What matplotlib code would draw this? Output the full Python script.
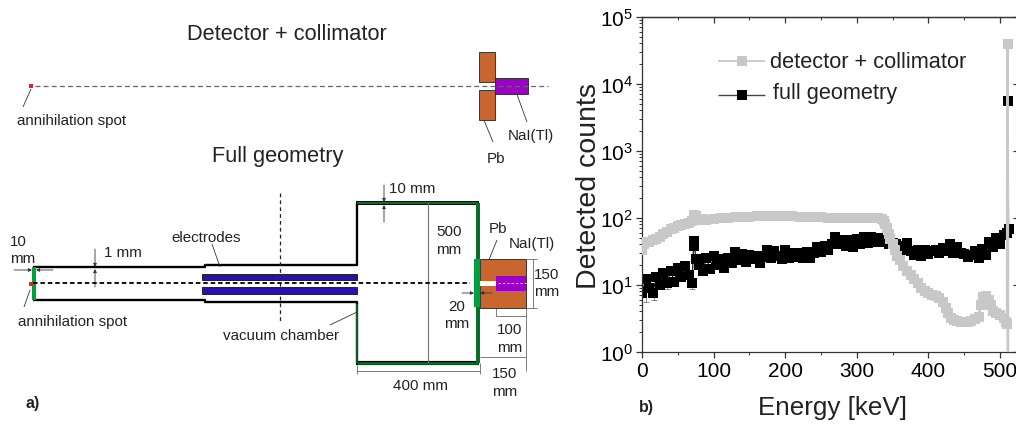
import numpy as np
import matplotlib
matplotlib.use('Agg')
import matplotlib.pyplot as plt
from matplotlib.patches import Rectangle
from matplotlib.ticker import FixedLocator, NullFormatter

plt.rcParams['font.family'] = ['Liberation Sans', 'DejaVu Sans']
plt.rcParams['mathtext.fontset'] = 'custom'
plt.rcParams['mathtext.rm'] = 'Liberation Sans'

# detector + collimator spectrum
gray_energy = [0, 3, 6, 10, 15, 20, 25, 30, 35, 40, 45, 50, 55, 60, 65, 70, 72, 75, 80, 85, 90,
               100, 110, 120, 130, 140, 150, 160, 170, 180, 190, 200, 210, 220, 230, 240, 250,
               260, 270, 280, 290, 300, 310, 320, 330, 335, 338, 340, 342, 345, 347, 350, 353,
               356, 360, 365, 370, 375, 380, 385, 390, 395, 400, 405, 410, 415, 420, 424, 428,
               432, 436, 440, 445, 450, 455, 460, 465, 470, 473, 476, 480, 484, 487, 490, 495,
               500, 505, 508, 510, 510.5, 511]
gray_counts = [33, 40, 43, 44, 46, 48, 52, 57, 62, 67, 71, 74, 77, 80, 83, 88, 110, 105, 93, 95, 92,
               95, 98, 100, 102, 103, 104, 105, 105, 106, 107, 106, 105, 104, 103, 102, 101,
               100, 99, 98, 98, 98, 98, 99, 98, 95, 90, 80, 70, 58, 48, 40, 33,
               27, 23, 19, 16, 14, 12, 10.5, 9, 8, 7.5, 7, 6.7, 6.3, 5.5, 4.5, 3.8,
               3.2, 3, 2.9, 2.8, 2.8, 2.8, 2.9, 3.1, 3.3, 5, 6.5, 6.8, 6, 5, 4, 3.8,
               3.5, 3.2, 2.8, 2.6, 39000, 0.5]

# full geometry spectrum
black_energy = [0, 5, 10, 15, 20, 25, 30, 35, 40, 45, 50, 55, 60, 65, 70, 72, 73, 75, 80, 85, 90,
                95, 100, 105, 110, 115, 120, 125, 130, 135, 140, 145, 150, 155, 160, 165, 170,
                175, 180, 185, 190, 195, 200, 205, 210, 215, 220, 225, 230, 235, 240, 245, 250,
                255, 260, 265, 270, 275, 280, 285, 290, 295, 300, 305, 310, 315, 320, 325, 330,
                335, 340, 345, 350, 355, 360, 365, 370, 375, 380, 385, 390, 395, 400, 405, 410,
                415, 420, 425, 430, 435, 440, 445, 450, 455, 460, 465, 470, 475, 480, 485, 490,
                495, 500, 505, 510, 511, 512]
black_counts = [7.5, 12, 9, 7.5, 13, 10, 15, 10.5, 16, 11, 18, 13, 19, 14, 10.5, 38, 45, 24, 20, 16, 25,
                17, 27, 20, 24, 18, 25, 21, 31, 23, 29, 22, 28, 24, 27, 21, 26,
                33, 25, 32, 27, 24, 33, 25, 30, 26, 30, 25, 31, 25, 30, 36, 31,
                38, 33, 41, 52, 40, 47, 38, 46, 36, 48, 40, 51, 42, 52, 43, 50,
                44, 46, 41, 42, 40, 38, 33, 42, 32, 28, 33, 27, 33, 29, 32, 33,
                30, 35, 32, 40, 30, 36, 30, 29, 26, 28, 32, 25, 34, 28, 44, 36,
                50, 40, 55, 60, 5500, 68]

# the few error bars that stick out of the black band
err_energy = [5, 17, 35, 47, 70]
err_counts = [8, 7.5, 10.5, 11, 10.5]
err_low = [2.4, 1.5, 1.8, 1.4, 2.0]
err_high = [1.0, 1.0, 1.0, 1.0, 1.0]

xtick_values = [0, 100, 200, 300, 400, 500]
xtick_minor = [50, 150, 250, 350, 450]
ytick_values = [1, 10, 100, 1000, 10000, 100000]
ytick_labels = ['$\\mathregular{10^{%d}}$' % i for i in range(6)]

GRAY = '#c8c8c8'
PB = '#c9652f'
PURPLE = '#9b00c6'
BLUE = '#2a0fb4'
GREEN = '#00a03c'
DKGREEN = '#0a6e2a'
EDGE = '#222222'

fig = plt.figure(figsize=(10.16, 4.27), dpi=100)

# b) spectrum panel
ax = fig.add_axes([642 / 1016, 1 - 352.7 / 427, 375 / 1016, 335 / 427])
ax.set_yscale('log')
ax.set_xlim(0, 523.7)
ax.set_ylim(1, 1e5)
ax.errorbar(err_energy, err_counts, yerr=[err_low, err_high], fmt='none', ecolor='#777777',
            elinewidth=0.6, capsize=2.5, capthick=0.6, zorder=1)
ax.plot(black_energy, black_counts, '-s', color='black', ms=7.2, lw=0.8, mew=0, zorder=2)
ax.plot(gray_energy, gray_counts, '-s', color=GRAY, ms=7, lw=2, mew=0, zorder=3)

ax.set_xticks(xtick_values)
ax.xaxis.set_minor_locator(FixedLocator(xtick_minor))
ax.xaxis.set_minor_formatter(NullFormatter())
ax.set_yticks(ytick_values)
ax.set_yticklabels(ytick_labels)
ax.yaxis.set_minor_locator(FixedLocator([m * d for d in ytick_values[:-1] for m in range(2, 10)]))
ax.yaxis.set_minor_formatter(NullFormatter())
ax.tick_params(axis='both', which='major', labelsize=15, length=4.5, width=0.9, color='#333333', pad=2)
ax.tick_params(axis='both', which='minor', length=2.5, width=0.7, color='#333333')
for s in ax.spines.values():
    s.set_linewidth(0.9)
    s.set_color('#333333')

# top and right ticks point inwards
top = ax.secondary_xaxis('top')
top.set_xticks(xtick_values)
top.set_xticks(xtick_minor, minor=True)
top.tick_params(axis='x', which='major', direction='in', length=4.5, width=0.9, color='#333333', labeltop=False)
top.tick_params(axis='x', which='minor', direction='in', length=2.5, width=0.7, color='#333333')
top.spines['top'].set_linewidth(0.9)
top.spines['top'].set_color('#333333')
right = ax.secondary_yaxis('right')
right.set_yticks(ytick_values)
right.yaxis.set_minor_locator(FixedLocator([]))
right.tick_params(axis='y', which='major', direction='in', length=3, width=0.9, color='#333333', labelright=False)

ax.set_xlabel('Energy [keV]', fontsize=18.7, va='center', color='#222222')
ax.xaxis.set_label_coords(0.507, -0.165)
ax.set_ylabel('Detected counts', fontsize=20.5, va='center', color='#222222')
ax.yaxis.set_label_coords(-0.141, 0.498)

# overlay in image pixels for the schematic, legend and panel letters
ov = fig.add_axes([0, 0, 1, 1])
ov.set_xlim(0, 1016)
ov.set_ylim(427, 0)
ov.axis('off')
ov.patch.set_alpha(0)


def label(x, y, s, size=10.9, ha='left', **kw):
    ov.text(x, y + 1, s, fontsize=size, ha=ha, va='center', color='#222222', **kw)


def box(x0, y0, x1, y1, color, edge='none', lw=0.6, z=3):
    ov.add_patch(Rectangle((x0, y0), x1 - x0, y1 - y0, facecolor=color, edgecolor=edge, linewidth=lw, zorder=z))


def line(xs, ys, color='#333333', lw=0.6, **kw):
    ov.plot(xs, ys, color=color, lw=lw, solid_capstyle='butt', **kw)


def arrow(x0, y0, x1, y1):
    ov.annotate('', xy=(x1, y1), xytext=(x0, y0),
                arrowprops=dict(arrowstyle='-|>', mutation_scale=5, lw=0.6, color='#333333',
                                shrinkA=0, shrinkB=0))


# legend
line([718, 765], [62, 62], color=GRAY, lw=1.3)
ov.plot([742], [62], 's', color=GRAY, ms=7, mew=0)
line([718, 765], [96, 96], color='#444444', lw=1.0)
ov.plot([742], [96], 's', color='black', ms=7, mew=0)
label(770, 61, 'detector + collimator', size=15.7)
label(773, 92, 'full geometry', size=15.7)
label(639, 407, 'b)', size=11.5, fontweight='bold')
label(26, 403, 'a)', size=11.5, fontweight='bold')

# upper schematic
label(287, 34, 'Detector + collimator', size=15.7, ha='center')
line([35, 548], [87, 87], color='#666666', lw=0.9, ls=(0, (4, 2.5)), zorder=5)
ov.plot([31], [87], 's', color='#e8202a', ms=2.4, mew=0)
box(479, 53, 495, 83, PB, EDGE)
box(479, 91, 495, 121, PB, EDGE)
box(495, 79, 528, 95, PURPLE, EDGE)
line([481, 493], [114, 143])
line([515, 527], [90, 123])
label(496, 158, 'Pb', ha='center')
label(508, 135, 'NaI(Tl)')
label(17, 120, 'annihilation spot')
line([31, 23], [90, 108])

# lower schematic: beam pipe
label(278, 156, 'Full geometry', size=15.7, ha='center')
line([33, 205, 205, 357, 357], [268, 268, 266, 266, 204], color='black', lw=1.7)
line([33, 205, 205, 357, 357], [301, 301, 303, 303, 364], color='black', lw=1.7)
line([356, 479], [204, 204], color='black', lw=2.8)
line([356, 479], [364, 364], color='black', lw=3)
line([357, 478], [204, 204], color=DKGREEN, lw=1.5)
line([357, 478], [364, 364], color=DKGREEN, lw=1.8)
line([357, 357], [305, 364], color=DKGREEN, lw=1.2)
box(32, 268, 35.5, 301, GREEN, z=4)
box(476, 204, 480, 364, DKGREEN, z=4)
box(474, 260, 480, 308, GREEN, z=5)
box(202, 275, 357, 281, BLUE, '#111111')
box(202, 288, 357, 295, BLUE, '#111111')
line([428, 428], [204, 364], color='#777777', lw=0.8)
line([280, 280], [194, 324], color='#222222', lw=0.9, ls=(0, (3, 2.5)))
box(480, 260, 526, 309, PB, EDGE)
box(496, 277, 526, 292, PURPLE)
box(480, 282, 496, 287, 'white')
line([33, 470], [284.3, 284.3], color='black', lw=1.3, ls=(0, (2.5, 1.6)), zorder=6)
line([498, 526], [284.3, 284.3], color='#e8c8f0', lw=0.7, ls=(0, (2.5, 2)), zorder=6)
ov.plot([31], [284.5], 's', color='#e8202a', ms=2.4, mew=0, zorder=7)

# annotations and dimension lines
label(10, 241, '10')
label(10, 258, 'mm')
arrow(14, 271, 32, 271)
arrow(53, 271, 36, 271)
label(104, 252, '1 mm')
arrow(95, 250, 95, 268)
arrow(95, 288, 95, 270)
label(171, 237, 'electrodes')
line([212, 220], [245, 268])
line([24, 30], [308, 291])
label(18, 321, 'annihilation spot')
label(223, 335, 'vacuum chamber')
line([357, 330], [313, 326])
label(389, 188, '10 mm')
arrow(384, 186, 384, 203)
arrow(384, 223, 384, 206)
label(436, 231, '500')
label(436, 249, 'mm')
label(489, 228, 'Pb')
label(509, 243, 'NaI(Tl)')
line([497, 486], [241, 268])
line([522, 514], [261, 282])
label(534, 274, '150')
label(534, 291, 'mm')
line([526, 537], [260, 260], color='#666666')
line([526, 537], [309, 309], color='#666666')
line([533, 533], [260, 309], color='#666666')
label(457, 306, '20', ha='center')
label(457, 323, 'mm', ha='center')
arrow(462, 294, 474, 294)
arrow(492, 294, 480, 294)
label(497, 329, '100')
label(497, 347, 'mm')
line([496, 526], [317, 317], color='#666666')
line([496, 496], [309, 317], color='#666666')
line([526, 526], [309, 372], color='#666666')
line([480, 526], [358, 358], color='#666666')
label(492, 373, '150')
label(492, 391, 'mm')
line([357, 480], [372, 372], color='#666666')
line([357, 357], [366, 375], color='#666666')
line([480, 480], [364, 375], color='#666666')
label(393, 385, '400 mm')

fig.savefig('out.png', dpi=100)
